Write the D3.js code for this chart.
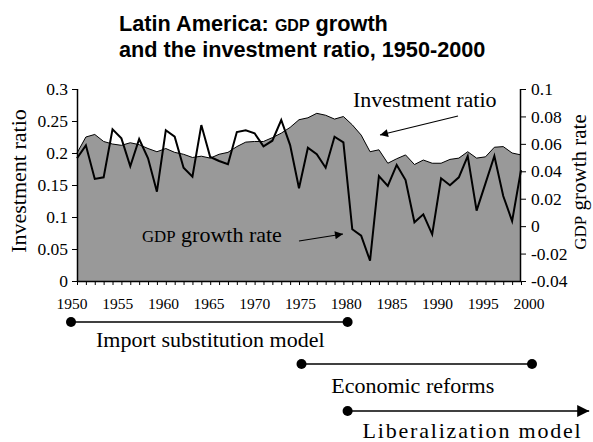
<!DOCTYPE html>
<html><head><meta charset="utf-8">
<script src="https://cdn.jsdelivr.net/npm/d3@7"></script>
<style>
html,body{margin:0;padding:0;background:#fff;}
svg{display:block;}
.serif{font-family:"Liberation Serif","Times New Roman",serif !important;}
</style></head>
<body>
<svg id="chart" width="593" height="442"></svg>
<script>
const years = [1950,1951,1952,1953,1954,1955,1956,1957,1958,1959,1960,1961,1962,1963,1964,1965,1966,1967,1968,1969,1970,1971,1972,1973,1974,1975,1976,1977,1978,1979,1980,1981,1982,1983,1984,1985,1986,1987,1988,1989,1990,1991,1992,1993,1994,1995,1996,1997,1998,1999,2000];
const gdpGrowth = [0.0495,0.0589,0.0344,0.0356,0.0706,0.064,0.0436,0.0635,0.0495,0.0251,0.0699,0.0652,0.0426,0.036,0.0737,0.0504,0.0475,0.0451,0.0686,0.0699,0.0677,0.0582,0.0623,0.0774,0.0591,0.0276,0.0572,0.0524,0.0426,0.0652,0.0611,-0.0023,-0.007,-0.0252,0.0365,0.0293,0.0446,0.0336,0.0028,0.0086,-0.006,0.0349,0.0298,0.0356,0.0511,0.0113,0.0312,0.0511,0.022,0.0037,0.0409];
const investmentRatio = [0.2,0.225,0.229,0.218,0.214,0.212,0.216,0.213,0.207,0.202,0.207,0.201,0.198,0.193,0.195,0.192,0.198,0.201,0.21,0.217,0.218,0.218,0.224,0.231,0.24,0.252,0.255,0.262,0.259,0.253,0.257,0.244,0.228,0.202,0.205,0.184,0.191,0.197,0.182,0.189,0.184,0.184,0.19,0.192,0.202,0.192,0.194,0.209,0.21,0.2,0.197];
const leftTicks = [0,0.05,0.1,0.15,0.2,0.25,0.3];
const leftTickLabels = ["0","0.05","0.1","0.15","0.2","0.25","0.3"];
const rightTicks = [-0.04,-0.02,0,0.02,0.04,0.06,0.08,0.1];
const rightTickLabels = ["-0.04","-0.02","0","0.02","0.04","0.06","0.08","0.1"];
const yearLabels = [1950,1955,1960,1965,1970,1975,1980,1985,1990,1995,2000];
const periods = [
  {name:"Import substitution model", start:1950, end:1980, arrow:false},
  {name:"Economic reforms", start:1975, end:2000, arrow:false},
  {name:"Liberalization model", start:1980, end:2006.2, arrow:true}
];

const svg = d3.select("#chart");
const sans = "'Liberation Sans',Arial,sans-serif";

const L = 77, R = 521, T = 89, B = 281;
const x = d3.scaleLinear().domain([1950,2000]).range([L,R]);
const xLab = d3.scaleLinear().domain([1950,2000]).range([72,529]);
const yL = d3.scaleLinear().domain([0,0.3]).range([B,T]);
const yR = d3.scaleLinear().domain([-0.04,0.1]).range([B,T]);

// defs
const defs = svg.append("defs");
defs.append("marker").attr("id","ah").attr("viewBox","0 0 10 10").attr("refX",10).attr("refY",5)
  .attr("markerWidth",10).attr("markerHeight",8).attr("markerUnits","userSpaceOnUse").attr("orient","auto")
  .append("path").attr("d","M0,0L10,5L0,10Z").attr("fill","#000");
defs.append("marker").attr("id","ahBig").attr("viewBox","0 0 10 10").attr("refX",10).attr("refY",5)
  .attr("markerWidth",16).attr("markerHeight",12).attr("markerUnits","userSpaceOnUse").attr("orient","auto")
  .append("path").attr("d","M0,0L10,5L0,10Z").attr("fill","#000");

// title
const title = svg.append("g").style("font-family",sans).attr("font-weight","bold").attr("font-size",21.7).attr("fill","#000");
const t1 = title.append("text").attr("x",119).attr("y",31);
t1.append("tspan").text("Latin America: ");
t1.append("tspan").attr("font-size",16).text("GDP");
t1.append("tspan").text(" growth");
title.append("text").attr("x",119).attr("y",57).text("and the investment ratio, 1950-2000");

// area
const area = d3.area().x((d,i)=>x(years[i])).y0(B).y1(d=>yL(d));
svg.append("path").datum(investmentRatio).attr("d",area).attr("fill","#999999");
const topLine = d3.line().x((d,i)=>x(years[i])).y(d=>yL(d));
svg.append("path").datum(investmentRatio).attr("d",topLine).attr("fill","none").attr("stroke","#000").attr("stroke-width",1);

// gdp line
const gLine = d3.line().x((d,i)=>x(years[i])).y(d=>yR(d));
svg.append("path").datum(gdpGrowth).attr("d",gLine).attr("fill","none").attr("stroke","#000").attr("stroke-width",2).attr("stroke-linejoin","miter");

// axes
const axL = svg.append("g").attr("transform",`translate(${L},0)`)
  .call(d3.axisLeft(yL).tickValues(leftTicks).tickSize(5).tickPadding(4).tickFormat((d,i)=>leftTickLabels[i]));
const axR = svg.append("g").attr("transform",`translate(${R},0)`)
  .call(d3.axisRight(yR).tickValues(rightTicks).tickSize(5).tickPadding(5).tickFormat((d,i)=>rightTickLabels[i]));
const axB = svg.append("g").attr("transform",`translate(0,${B})`)
  .call(d3.axisBottom(x).tickValues(years).tickSize(4).tickFormat(""));
[axL,axR,axB].forEach(a=>{
  a.attr("font-family",null).attr("font-size",null);
  a.select(".domain").attr("stroke","#000").attr("stroke-width",1.5);
  a.selectAll(".tick line").attr("stroke","#000").attr("stroke-width",1);
  a.selectAll("text").attr("class","serif").attr("font-size",17.5).attr("fill","#000");
});
axB.select(".domain").attr("d",`M${L},0.5H${R}`);
axL.select(".domain").attr("d",`M0.5,${T}V${B}`);
axR.select(".domain").attr("d",`M-0.5,${T}V${B}`);

// x labels
svg.append("g").selectAll("text").data(yearLabels).join("text")
  .attr("class","serif")
  .attr("x",d=>xLab(d)).attr("y",309).attr("text-anchor","middle")
  .attr("font-size",15.5).attr("fill","#000").text(d=>d);

// axis titles
svg.append("text").attr("class","serif").attr("transform",`translate(26,${(T+B)/2-4}) rotate(-90)`).attr("text-anchor","middle")
  .attr("font-size",22).attr("fill","#000").text("Investment ratio");
const rt = svg.append("text").attr("class","serif").attr("transform",`translate(586,${(T+B)/2-3}) rotate(-90)`).attr("text-anchor","middle")
  .attr("font-size",21).attr("fill","#000");
rt.append("tspan").attr("font-size",17).text("GDP");
rt.append("tspan").text(" growth rate");

// annotations
svg.append("text").attr("class","serif").attr("x",353).attr("y",107).attr("font-size",22).attr("fill","#000").text("Investment ratio");
svg.append("line").attr("x1",458).attr("y1",116).attr("x2",380).attr("y2",135).attr("stroke","#000").attr("stroke-width",1.2).attr("marker-end","url(#ah)");
const ga = svg.append("text").attr("class","serif").attr("x",142).attr("y",242).attr("font-size",22).attr("fill","#000");
ga.append("tspan").attr("font-size",16.8).text("GDP");
ga.append("tspan").text(" growth rate");
svg.append("line").attr("x1",299).attr("y1",241).attr("x2",343).attr("y2",234).attr("stroke","#000").attr("stroke-width",1.2).attr("marker-end","url(#ah)");

// timeline
const tl = d3.scaleLinear().domain([1950,2000]).range([71,532]);
const rowY = [322,364,411];
const textY = [347,393,438];
const textDx = [1,-4,0];
const spacing = [0,0,1.8];
periods.forEach((p,i)=>{
  const g = svg.append("g");
  g.append("line").attr("x1",tl(p.start)).attr("x2",tl(p.end)).attr("y1",rowY[i]).attr("y2",rowY[i])
    .attr("stroke","#000").attr("stroke-width",1.5).attr("marker-end",p.arrow?"url(#ahBig)":null);
  g.append("circle").attr("cx",tl(p.start)).attr("cy",rowY[i]).attr("r",5).attr("fill","#000");
  if(!p.arrow) g.append("circle").attr("cx",tl(p.end)).attr("cy",rowY[i]).attr("r",5).attr("fill","#000");
  const tx = p.arrow ? tl(p.start) + 15 : (tl(p.start)+tl(p.end))/2 + textDx[i];
  g.append("text").attr("class","serif").attr("x",tx).attr("y",textY[i])
    .attr("text-anchor",p.arrow?"start":"middle").attr("letter-spacing",spacing[i])
    .attr("font-size",22).attr("fill","#000").text(p.name);
});
</script>
</body></html>
